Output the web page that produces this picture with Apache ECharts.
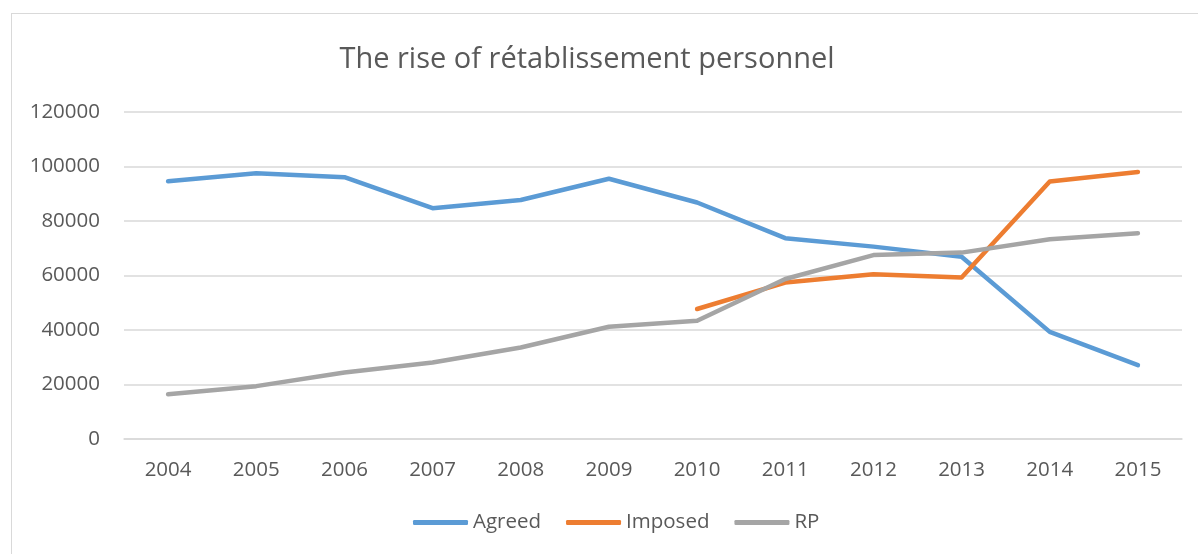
<!DOCTYPE html>
<html lang="en">
<head>
    <meta charset="UTF-8">
    <title>The rise of rétablissement personnel</title>
    <script src="https://cdn.jsdelivr.net/npm/echarts@6/dist/echarts.min.js"></script>
    <style>
        html, body { margin: 0; padding: 0; overflow: hidden; background: #fff; }
        #main { position: absolute; left: 0; top: 0; width: 1198px; height: 554px; }
        #frame { position: absolute; left: 11px; top: 13px; width: 1200px; height: 600px;
                 border: 1px solid #d9d9d9; pointer-events: none; }
    </style>
</head>
<body>
<div id="main"></div>
<div id="frame"></div>
<script type="text/javascript">
    var years = ['2004', '2005', '2006', '2007', '2008', '2009', '2010', '2011', '2012', '2013', '2014', '2015'];
    var agreed = [94600, 97500, 96100, 84700, 87700, 95500, 86800, 73700, 70600, 66900, 39300, 27100];
    var imposed = [null, null, null, null, null, null, 47700, 57400, 60500, 59300, 94500, 98000];
    var rp = [16400, 19400, 24400, 28100, 33600, 41200, 43400, 58700, 67500, 68400, 73300, 75500];

    var colors = ['#5b9bd5', '#ed7d31', '#a5a5a5'];
    var textColor = '#595959';
    var fontName = 'Open Sans';

    var myChart = echarts.init(document.getElementById('main'));

    var option = {
        color: colors,
        animation: false,
        title: {
            text: 'The rise of rétablissement personnel',
            left: 582,
            top: 40,
            textAlign: 'center',
            textStyle: {
                color: textColor,
                fontFamily: fontName,
                fontWeight: 'normal',
                fontSize: 29
            }
        },
        legend: {
            bottom: 16,
            left: 408,
            icon: 'roundRect',
            itemWidth: 55,
            itemHeight: 5,
            itemGap: 25,
            textStyle: {
                color: textColor,
                fontFamily: fontName,
                fontSize: 20.5
            },
            data: ['Agreed', 'Imposed', 'RP']
        },
        grid: {
            left: 124,
            right: 16,
            top: 112,
            bottom: 115,
            containLabel: false
        },
        xAxis: {
            type: 'category',
            data: years,
            boundaryGap: true,
            axisLine: { lineStyle: { color: '#d9d9d9', width: 1.5 } },
            axisTick: { show: false },
            axisLabel: {
                color: textColor,
                fontFamily: fontName,
                fontSize: 20.5,
                margin: 21
            }
        },
        yAxis: {
            type: 'value',
            min: 0,
            max: 120000,
            interval: 20000,
            axisLine: { show: false },
            axisTick: { show: false },
            axisLabel: {
                color: textColor,
                fontFamily: fontName,
                fontSize: 20.5,
                margin: 24,
                formatter: function (v) { return String(v); }
            },
            splitLine: { lineStyle: { color: '#d9d9d9', width: 1.5 } }
        },
        series: [
            {
                name: 'Agreed',
                type: 'line',
                data: agreed,
                symbol: 'none',
                lineStyle: { width: 4.5, cap: 'round', join: 'round' }
            },
            {
                name: 'Imposed',
                type: 'line',
                data: imposed,
                symbol: 'none',
                lineStyle: { width: 4.5, cap: 'round', join: 'round' }
            },
            {
                name: 'RP',
                type: 'line',
                data: rp,
                symbol: 'none',
                lineStyle: { width: 4.5, cap: 'round', join: 'round' }
            }
        ]
    };

    myChart.setOption(option);
</script>
</body>
</html>
